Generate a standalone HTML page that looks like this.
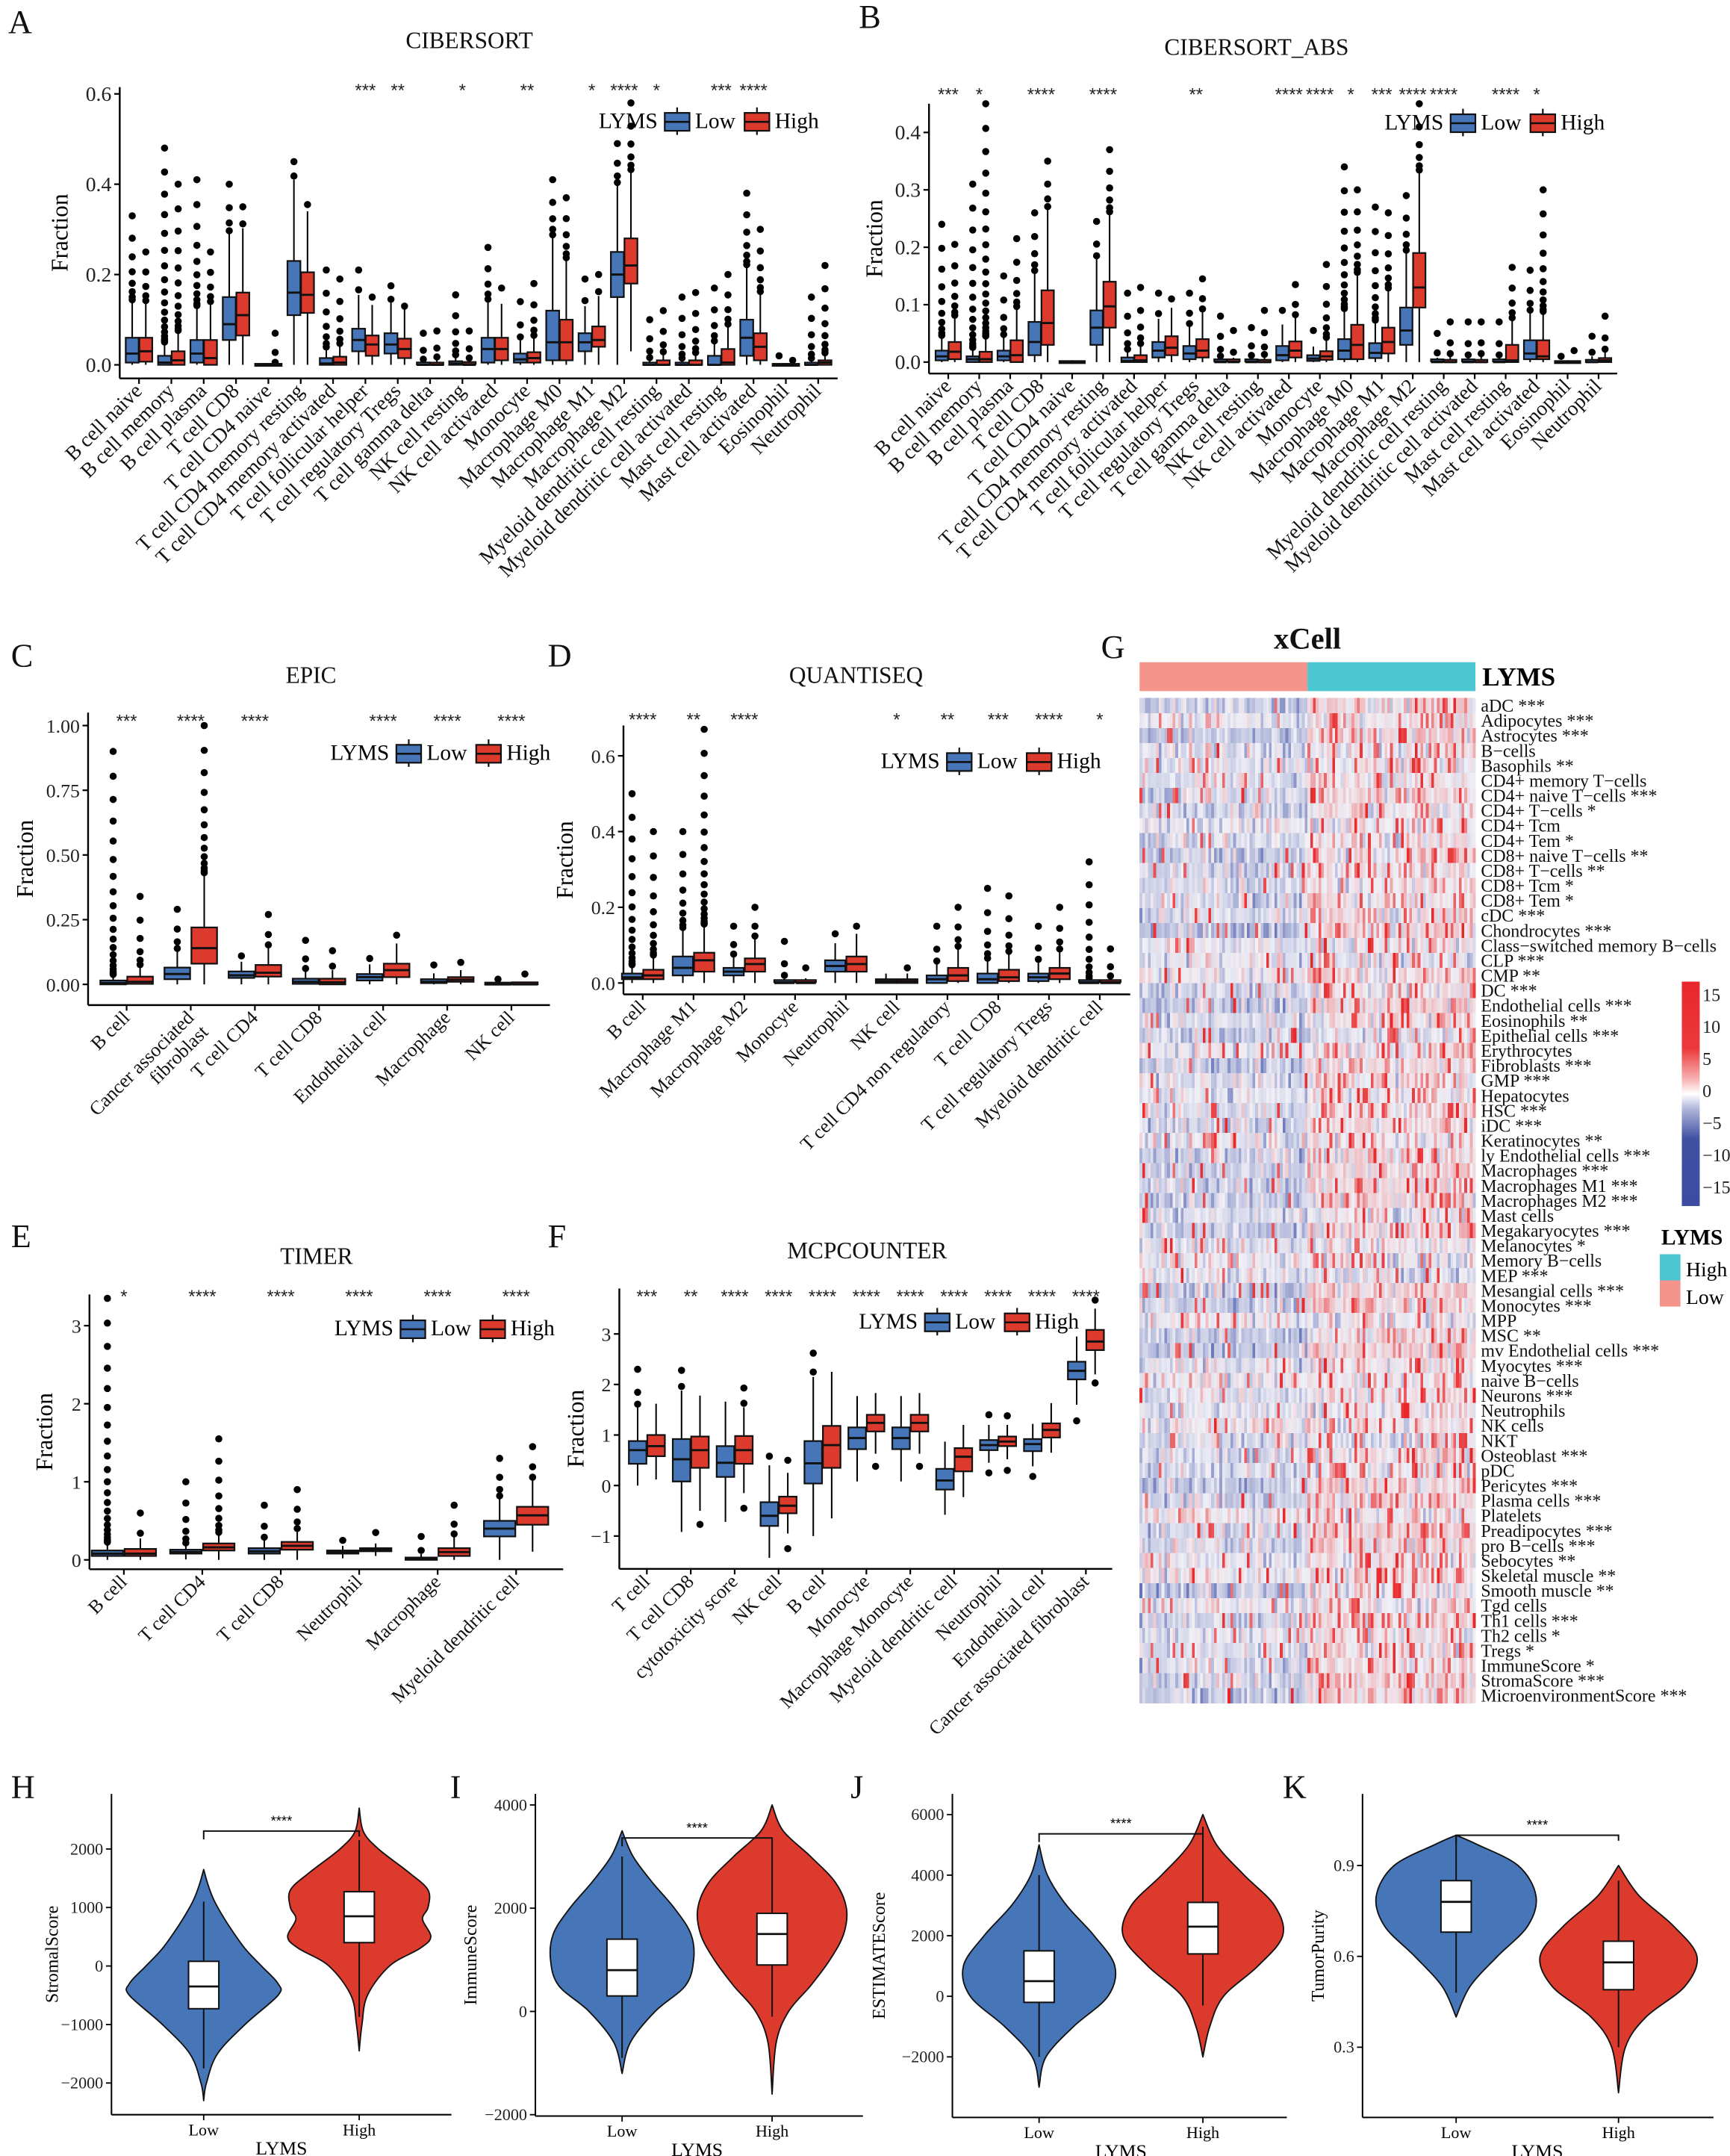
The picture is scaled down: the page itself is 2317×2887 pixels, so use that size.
<!DOCTYPE html>
<html><head><meta charset="utf-8">
<style>html,body{margin:0;padding:0;background:#fff}svg{display:block}</style>
</head><body>
<svg id="fig" xmlns="http://www.w3.org/2000/svg" width="2317" height="2887" viewBox="0 0 1257 1566" preserveAspectRatio="none" font-family="Liberation Serif, serif">
<rect x="0" y="0" width="1257" height="1566" fill="#fff"/>
<g font-size="24" fill="#111">
<text x="6" y="24">A</text>
<text x="624" y="20">B</text>
<text x="8" y="484">C</text>
<text x="398" y="484">D</text>
<text x="800" y="478">G</text>
<text x="8" y="906">E</text>
<text x="398" y="906">F</text>
<text x="8" y="1306">H</text>
<text x="327" y="1306">I</text>
<text x="618" y="1306">J</text>
<text x="932" y="1306">K</text>
</g>
<g font-size="17" fill="#111" text-anchor="middle">
<text x="341" y="35">CIBERSORT</text>
<text x="913" y="40">CIBERSORT_ABS</text>
<text x="226" y="496">EPIC</text>
<text x="622" y="496">QUANTISEQ</text>
<text x="230" y="918">TIMER</text>
<text x="630" y="914">MCPCOUNTER</text>
<text x="950" y="471" font-size="22" font-weight="bold">xCell</text>
</g>
</svg>
<script>
const NS='http://www.w3.org/2000/svg';
const svg=document.getElementById('fig');
const BLUE='#4676B8', RED='#DC3A2C';
function mk(tag,attrs,parent){const e=document.createElementNS(NS,tag);for(const k in attrs)e.setAttribute(k,attrs[k]);(parent||svg).appendChild(e);return e;}
function tx(str,attrs,parent){const e=mk('text',attrs,parent);e.textContent=str;return e;}

/* ---------- Panel A: CIBERSORT ---------- */
const aCats=["B cell naive","B cell memory","B cell plasma","T cell CD8","T cell CD4  naive","T cell CD4  memory resting","T cell CD4  memory activated","T cell follicular helper","T cell regulatory  Tregs","T cell gamma delta","NK cell resting","NK cell activated","Monocyte","Macrophage M0","Macrophage M1","Macrophage M2","Myeloid dendritic cell resting","Myeloid dendritic cell activated","Mast cell resting","Mast cell activated","Eosinophil","Neutrophil"];
const aLow=[[.005,.025,.06,.33],[0,.005,.02,.48],[.005,.025,.055,.41],[.055,.09,.15,.40],[0,0,0,0],[.11,.16,.23,.45],[0,.003,.015,.21],[.03,.055,.08,.21],[.025,.045,.07,.175],[0,0,.003,.07],[0,.003,.008,.155],[.005,.035,.06,.26],[.005,.012,.025,.14],[.01,.05,.12,.41],[.03,.05,.07,.19],[.15,.2,.25,.49],[0,0,.005,.10],[0,0,.005,.15],[0,0,.02,.17],[.02,.06,.1,.38],[0,0,0,.02],[0,0,.005,.15]];
const aHigh=[[.007,.03,.06,.25],[0,.01,.03,.40],[0,.015,.055,.25],[.065,.11,.16,.35],[0,0,0,.07],[.115,.155,.205,.355],[0,.005,.018,.19],[.02,.045,.065,.15],[.015,.035,.058,.13],[0,0,.005,.075],[0,0,.004,.075],[.01,.035,.06,.17],[.005,.015,.028,.18],[.01,.05,.1,.37],[.04,.055,.085,.20],[.18,.22,.28,.58],[0,0,.01,.12],[0,0,.01,.16],[0,.005,.035,.20],[.01,.04,.07,.30],[0,0,0,.01],[0,.005,.01,.22]];
const aStars=["","","","","","","","***","**","","*","","**","","*","****","*","","***","****","",""];
const aTicks=[0,0.2,0.4,0.6];
const aTickLabels=["0.0","0.2","0.4","0.6"];

/* ---------- Panel B: CIBERSORT_ABS ---------- */
const bCats=aCats.slice();
const bLow=[[.003,.01,.02,.24],[0,.005,.01,.31],[.003,.01,.02,.15],[.012,.035,.07,.26],[0,0,0,0],[.03,.06,.09,.245],[0,.002,.008,.12],[.008,.02,.035,.12],[.005,.015,.028,.12],[0,0,.003,.08],[0,0,.003,.06],[.003,.012,.028,.09],[.002,.006,.012,.055],[.005,.02,.04,.34],[.007,.016,.033,.27],[.03,.055,.095,.29],[0,0,.003,.05],[0,0,.003,.07],[0,0,.003,.07],[.005,.015,.038,.16],[0,0,0,.01],[0,0,.004,.045]];
const bHigh=[[.005,.018,.035,.205],[0,.005,.018,.45],[0,.012,.038,.215],[.03,.068,.125,.35],[0,0,0,0],[.06,.097,.14,.37],[0,.003,.012,.13],[.012,.025,.045,.11],[.008,.02,.04,.145],[0,0,.003,.055],[0,0,.004,.09],[.008,.02,.036,.135],[.004,.01,.019,.17],[.005,.03,.065,.30],[.015,.035,.06,.26],[.095,.13,.19,.45],[0,0,.004,.07],[0,0,.004,.07],[0,.003,.03,.165],[.005,.01,.038,.30],[0,0,0,.02],[0,.003,.007,.08]];
const bStars=["***","*","","****","","****","","","**","","","****","****","*","***","****","****","","****","*","",""];
const bTicks=[0,0.1,0.2,0.3,0.4];
const bTickLabels=["0.0","0.1","0.2","0.3","0.4"];

/* ---------- Panel C: EPIC ---------- */
const cCats=["B cell","Cancer associated|fibroblast","T cell CD4","T cell CD8","Endothelial cell","Macrophage","NK cell"];
const cLow=[[0,.005,.015,.9],[.02,.04,.065,.29],[.025,.035,.05,.11],[.002,.01,.022,.17],[.015,.028,.04,.1],[.005,.01,.02,.075],[0,0,.003,.02]];
const cHigh=[[.002,.01,.03,.34],[.08,.14,.22,1.0],[.03,.045,.075,.27],[0,.008,.022,.13],[.028,.055,.08,.19],[.01,.018,.028,.085],[0,0,.004,.04]];
const cStars=["***","****","****","","****","****","****"];
const cTicks=[0,0.25,0.5,0.75,1.0];
const cTickLabels=["0.00","0.25","0.50","0.75","1.00"];

/* ---------- Panel D: QUANTISEQ ---------- */
const dCats=["B cell","Macrophage M1","Macrophage M2","Monocyte","Neutrophil","NK cell","T cell CD4 non regulatory","T cell CD8","T cell regulatory  Tregs","Myeloid dendritic cell"];
const dLow=[[.01,.015,.025,.5],[.02,.04,.07,.4],[.02,.03,.04,.15],[0,0,.005,.11],[.03,.045,.06,.13],[0,.005,.01,.03],[0,.01,.02,.15],[0,.01,.025,.25],[.005,.015,.025,.15],[0,0,.005,.32]];
const dHigh=[[.01,.02,.035,.4],[.03,.06,.08,.67],[.03,.05,.065,.2],[0,0,.005,.04],[.03,.05,.07,.15],[0,.005,.01,.04],[.005,.02,.04,.2],[.005,.015,.035,.23],[.01,.025,.04,.2],[0,0,.005,.09]];
const dStars=["****","**","****","","","*","**","***","****","*"];
const dTicks=[0,0.2,0.4,0.6];
const dTickLabels=["0.0","0.2","0.4","0.6"];

/* ---------- Panel E: TIMER ---------- */
const eCats=["B cell","T cell CD4","T cell CD8","Neutrophil","Macrophage","Myeloid dendritic cell"];
const eLow=[[.05,.08,.12,3.35],[.08,.1,.13,1.0],[.08,.11,.15,.7],[.08,.1,.12,.25],[0,.01,.03,.3],[.3,.4,.5,1.3]];
const eHigh=[[.05,.08,.14,.6],[.12,.16,.21,1.55],[.13,.18,.23,.9],[.11,.13,.15,.35],[.05,.1,.15,.7],[.45,.57,.68,1.45]];
const eStars=["*","****","****","****","****","****"];
const eTicks=[0,1,2,3];
const eTickLabels=["0","1","2","3"];

/* ---------- Panel F: MCPCOUNTER  [lo,q1,med,q3,hi,outMax,outMin] ---------- */
const fCats=["T cell","T cell CD8","cytotoxicity score","NK cell","B cell","Monocyte","Macrophage Monocyte","Myeloid dendritic cell","Neutrophil","Endothelial cell","Cancer associated fibroblast"];
const fLow=[[0,.43,.7,.88,1.55,2.3],[-.92,.08,.52,.92,1.88,2.28],[-.72,.17,.45,.78,1.66,1.66],[-1.43,-.8,-.6,-.33,.4,.58],[-1.0,.04,.44,.88,2.15,2.62],[.08,.72,.94,1.15,1.77,1.77],[.08,.72,.94,1.15,1.77,1.77],[-.58,-.08,.1,.33,.87,.87],[.45,.7,.8,.9,1.2,1.4,.25],[.38,.68,.82,.92,1.22,1.22,.18],[1.6,2.1,2.27,2.45,2.95,2.95,1.28]];
const fHigh=[[.12,.58,.78,1.0,1.62,1.62],[-.5,.35,.7,.97,1.78,1.78,-.77],[-.15,.43,.7,.98,1.55,1.93,-.45],[-.95,-.55,-.4,-.22,.25,.5,-1.25],[-.65,.35,.8,1.18,2.25,2.25],[.63,1.07,1.24,1.4,1.83,1.83,.38],[.63,1.07,1.24,1.4,1.83,1.83,.38],[-.23,.28,.57,.74,1.2,1.2],[.52,.78,.87,.97,1.2,1.38,.3],[.65,.95,1.1,1.23,1.63,1.63],[2.2,2.68,2.85,3.08,3.5,3.67,2.03]];
const fStars=["***","**","****","****","****","****","****","****","****","****","****"];
const fTicks=[-1,0,1,2,3];
const fTickLabels=["\u22121","0","1","2","3"];

function dotPositions(pStart,pEnd){
  const dist=Math.abs(pEnd-pStart);
  if(dist<2) return [];
  const n=Math.max(1,Math.round(dist/8));
  const out=[];
  for(let k=1;k<=n;k++){const t=Math.pow(k/n,2.3);out.push(pStart+(pEnd-pStart)*t);}
  return out;
}

function drawBoxPanel(c){
  const g=mk('g',{});
  
  
  const Y=v=>c.y0-v*c.ppu;
  const yTop=Y(c.amax), yBot=Y(c.amin);
  const xRight=c.x1+(c.cats.length-1)*c.sp+c.sp*0.6;
  const ya=mk('line',{x1:c.ax,x2:c.ax,y1:yTop,y2:yBot,stroke:'#000','stroke-width':1.3},g);
  
  
  const xa=mk('line',{x1:c.ax,x2:xRight,y1:yBot,y2:yBot,stroke:'#000','stroke-width':1.3},g);
  
  
  c.ticks.forEach((t,i)=>{
    const tl=mk('line',{x1:c.ax-4,x2:c.ax,y1:Y(t),y2:Y(t),stroke:'#000','stroke-width':1.2},g);
    
    
    const lb=tx(c.tickLabels[i],{x:c.ax-6,y:Y(t)+5,'text-anchor':'end','font-size':c.tfs,fill:'#222'},g);
    
    
  });
  const yt=tx('Fraction',{x:c.ytx,y:(yTop+yBot)/2,'text-anchor':'middle','font-size':17,transform:`rotate(-90 ${c.ytx} ${(yTop+yBot)/2})`},g);
  
  
  const bw=c.sp*0.4, off=c.sp*0.21;
  c.cats.forEach((cat,i)=>{
    const cx=c.x1+i*c.sp;
    const tk=mk('line',{x1:cx,x2:cx,y1:yBot,y2:yBot+4,stroke:'#000','stroke-width':1.2},g);
    
    
    [[c.low[i],BLUE,-1,'low'],[c.high[i],RED,1,'high']].forEach(([d,col,s,nm])=>{
      const bx=cx+s*off;
      let lo,q1,md,q3,hi,outMax,outMin;
      if(d.length===4){[q1,md,q3,outMax]=d;const iqr=q3-q1;hi=Math.max(q3,Math.min(q3+1.5*iqr,outMax));lo=Math.max(q1-1.5*iqr,c.floor);outMin=null;}
      else{[lo,q1,md,q3,hi,outMax,outMin]=d;}
      const bg=mk('g',{},g);
      
      
      dotPositions(Y(hi),Y(outMax)).forEach(py=>{
        const dot=mk('circle',{cx:bx,cy:py,r:2.6,fill:'#000'},bg);
        
        
      });
      if(outMin!=null&&outMin!==undefined){
        dotPositions(Y(lo),Y(outMin)).forEach(py=>{
          const dot=mk('circle',{cx:bx,cy:py,r:2.6,fill:'#000'},bg);
          
          
        });
      }
      const wk=mk('line',{x1:bx,x2:bx,y1:Y(hi),y2:Y(lo),stroke:'#000','stroke-width':1.1},bg);
      
      
      const h=Math.max(Y(q1)-Y(q3),1.5);
      const rc=mk('rect',{x:bx-bw/2,y:Y(q3)-(h<=1.5?0.75:0),width:bw,height:h,fill:col,stroke:'#111','stroke-width':1.2},bg);
      
      
      const ml=mk('line',{x1:bx-bw/2,x2:bx+bw/2,y1:Y(md),y2:Y(md),stroke:'#111','stroke-width':1.6},bg);
      
      
    });
    const parts=cat.split('|');
    const lx=cx+3, ly=yBot+10;
    const lab=tx('',{x:lx,y:ly,'text-anchor':'end','font-size':c.lfs,fill:'#111',transform:`rotate(-45 ${lx} ${ly})`},g);
    
    
    parts.forEach((p,k)=>{const ts=mk('tspan',{x:lx,dy:k?'1.05em':'0'},lab);ts.textContent=p;});
    if(c.stars[i]){
      const st=tx(c.stars[i],{x:cx,y:c.starY,'text-anchor':'middle','font-size':13,fill:'#222','font-family':'Liberation Sans, sans-serif'},g);
      
      
    }
  });
  const lg=mk('g',{},g);
  
  
  const L=c.leg;
  const l1=tx('LYMS',{x:L[0],y:L[1]+5,'font-size':16},lg);
  
  
  [[BLUE,'Low',48],[RED,'High',106]].forEach(([col,t,dx])=>{
    const k=mk('line',{x1:L[0]+dx+9,x2:L[0]+dx+9,y1:L[1]-10,y2:L[1]+10,stroke:'#111','stroke-width':1.2},lg);
    
    
    const r=mk('rect',{x:L[0]+dx,y:L[1]-6,width:18,height:13,fill:col,stroke:'#111','stroke-width':1.2},lg);
    
    
    const m=mk('line',{x1:L[0]+dx,x2:L[0]+dx+18,y1:L[1]+0.5,y2:L[1]+0.5,stroke:'#111','stroke-width':1.4},lg);
    
    
    const lt=tx(t,{x:L[0]+dx+22,y:L[1]+5,'font-size':16},lg);
    
    
  });
}

drawBoxPanel({name:'panel-a-cibersort',cats:aCats,low:aLow,high:aHigh,stars:aStars,ticks:aTicks,tickLabels:aTickLabels,ax:87,y0:265,ppu:328,amin:-0.03,amax:0.615,x1:101,sp:23.5,floor:0,starY:70,ytx:49,tfs:15,lfs:15,leg:[435,88]});
drawBoxPanel({name:'panel-b-cibersort-abs',cats:bCats,low:bLow,high:bHigh,stars:bStars,ticks:bTicks,tickLabels:bTickLabels,ax:675,y0:263,ppu:417,amin:-0.02,amax:0.45,x1:689,sp:22.5,floor:0,starY:73,ytx:641,tfs:15,lfs:15,leg:[1006,89]});
drawBoxPanel({name:'panel-c-epic',cats:cCats,low:cLow,high:cHigh,stars:cStars,ticks:cTicks,tickLabels:cTickLabels,ax:64,y0:715,ppu:188,amin:-0.08,amax:1.05,x1:92,sp:46.6,floor:0,starY:528,ytx:24,tfs:14,lfs:14,leg:[240,547]});
drawBoxPanel({name:'panel-d-quantiseq',cats:dCats,low:dLow,high:dHigh,stars:dStars,ticks:dTicks,tickLabels:dTickLabels,ax:453,y0:714,ppu:275,amin:-0.03,amax:0.68,x1:467,sp:36.9,floor:0,starY:527,ytx:416,tfs:14,lfs:14,leg:[640,553]});
drawBoxPanel({name:'panel-e-timer',cats:eCats,low:eLow,high:eHigh,stars:eStars,ticks:eTicks,tickLabels:eTickLabels,ax:65,y0:1133,ppu:56.7,amin:-0.12,amax:3.4,x1:90,sp:57,floor:0,starY:946,ytx:38,tfs:14,lfs:14,leg:[243,965]});
drawBoxPanel({name:'panel-f-mcpcounter',cats:fCats,low:fLow,high:fHigh,stars:fStars,ticks:fTicks,tickLabels:fTickLabels,ax:450,y0:1079,ppu:36.7,amin:-1.65,amax:3.9,x1:470,sp:31.9,floor:-5,starY:946,ytx:424,tfs:14,lfs:14,leg:[624,960]});

/* ---------- Panel G: xCell heatmap ---------- */
const gRows=["aDC ***","Adipocytes ***","Astrocytes ***","B\u2212cells","Basophils **","CD4+ memory T\u2212cells","CD4+ naive T\u2212cells ***","CD4+ T\u2212cells *","CD4+ Tcm","CD4+ Tem *","CD8+ naive T\u2212cells **","CD8+ T\u2212cells **","CD8+ Tcm *","CD8+ Tem *","cDC ***","Chondrocytes ***","Class\u2212switched memory B\u2212cells","CLP ***","CMP **","DC ***","Endothelial cells ***","Eosinophils **","Epithelial cells ***","Erythrocytes","Fibroblasts ***","GMP ***","Hepatocytes","HSC ***","iDC ***","Keratinocytes **","ly Endothelial cells ***","Macrophages ***","Macrophages M1 ***","Macrophages M2 ***","Mast cells","Megakaryocytes ***","Melanocytes *","Memory B\u2212cells","MEP ***","Mesangial cells ***","Monocytes ***","MPP","MSC **","mv Endothelial cells ***","Myocytes ***","naive B\u2212cells","Neurons ***","Neutrophils","NK cells","NKT","Osteoblast ***","pDC","Pericytes ***","Plasma cells ***","Platelets","Preadipocytes ***","pro B\u2212cells ***","Sebocytes **","Skeletal muscle **","Smooth muscle **","Tgd cells","Th1 cells ***","Th2 cells *","Tregs *","ImmuneScore *","StromaScore ***","MicroenvironmentScore ***"];
const gLowMean=[-.35,-.05,-.4,-.1,-.15,-.15,-.2,-.2,0,-.15,-.3,-.25,-.2,-.2,-.2,-.4,-.1,-.05,0,-.25,-.35,-.2,-.25,0,-.3,-.15,-.1,-.2,-.25,-.1,-.3,-.3,-.3,-.3,-.15,-.3,-.15,-.05,-.1,-.3,-.25,0,-.35,-.3,-.15,0,-.15,-.1,0,-.2,-.15,-.15,-.35,-.2,0,-.25,-.2,-.05,0,-.35,0,-.25,-.15,-.15,-.2,-.3,-.3];
const gHighMean=[.2,.1,.2,0,.05,.05,.15,.05,.05,.05,.1,.1,.1,.1,.15,.2,0,-.1,.1,.15,.2,.1,-.15,.05,.2,.1,0,.1,.15,.05,.2,.2,.2,.2,0,.2,.05,0,-.15,.2,.2,0,.05,.2,.1,.05,.1,.05,.05,0,.15,0,.15,.2,.05,.2,.2,.1,.1,.05,.05,.15,.1,.1,.1,.2,.2];
function drawHeatmap(){
  const g=mk('g',{});
  
  
  const x0=828,x1=1072,y0=507,rh=730/gRows.length,N=122,cw=(x1-x0)/N;
  const a1=mk('rect',{x:x0,y:481,width:(x1-x0)/2,height:21,fill:'#F4948A'},g);
  
  
  const a2=mk('rect',{x:(x0+x1)/2,y:481,width:(x1-x0)/2,height:21,fill:'#4CC6D0'},g);
  
  
  const at=tx('LYMS',{x:1077,y:498,'font-size':19,'font-weight':'bold'},g);
  
  
  const h=(i,j)=>{const s=Math.sin(i*127.1+j*311.7+7.3)*43758.5453;return s-Math.floor(s);};
  const col=t=>{t=Math.max(-1,Math.min(1,t));
    if(t>=0){const r=Math.round(240+(232-240)*t),gg=Math.round(240-(240-38)*t),b=Math.round(246-(246-40)*t);return `rgb(${r},${gg},${b})`;}
    const u=-t;return `rgb(${Math.round(240-(240-60)*u)},${Math.round(240-(240-78)*u)},${Math.round(246-(246-165)*u)})`;};
  const cells=mk('g',{'shape-rendering':'crispEdges'},g);
  
  
  gRows.forEach((r,i)=>{
    for(let j=0;j<N;j++){
      const base=j<N/2?gLowMean[i]:gHighMean[i];
      const n=h(i,j)*2-1, cn=h(99,j)*2-1;
      let v=0.7*base+0.45*n*n*n+0.1*cn;
      const sp=h(i+50,j);
      if(sp>(j<N/2?0.95:0.88)) v=0.6+0.4*h(i+7,j+3);
      const c=mk('rect',{x:x0+j*cw,y:y0+i*rh,width:cw+0.3,height:rh+0.3,fill:col(v)},cells);
      
      
    }
    const lb=tx(r,{x:1076,y:y0+(i+0.5)*rh+4.5,'font-size':13,fill:'#111'},g);
    
    
  });
  const defs=mk('defs',{},g);
  const lgd=mk('linearGradient',{id:'cbg',x1:0,y1:0,x2:0,y2:1},defs);
  [[0,'#E8262B'],[0.3,'#EC3A3C'],[0.44,'#F7B8B8'],[0.5,'#FFFFFF'],[0.56,'#B8BCDD'],[0.7,'#4050A3'],[1,'#3C4CA0']].forEach(([o,c])=>mk('stop',{offset:o,'stop-color':c},lgd));
  const cb=mk('rect',{x:1222,y:713,width:13,height:163,fill:'url(#cbg)'},g);
  
  
  const cbT=["15","10","5","0","\u22125","\u221210","\u221215"];
  cbT.forEach((t,k)=>{
    const l=tx(t,{x:1237,y:727+k*23.3,'font-size':13,fill:'#222'},g);
    
    
  });
  const lt=tx('LYMS',{x:1207,y:904,'font-size':16,'font-weight':'bold'},g);
  
  
  const k1=mk('rect',{x:1206,y:911,width:15,height:19,fill:'#4CC6D0'},g);
  
  
  const k2=mk('rect',{x:1206,y:930,width:15,height:19,fill:'#F4948A'},g);
  
  
  const t1=tx('High',{x:1225,y:927,'font-size':15},g);
  
  
  const t2=tx('Low',{x:1225,y:947,'font-size':15},g);
  
  
}
drawHeatmap();

/* ---------- Panels H-K: violins ---------- */
const hLowVals=[-2300,-2000,-1500,-1000,-500,-300,0,300,700,1100,1400,1650];
const hLowW=[0,2,10,30,54,54,42,30,18,8,3,0];
const hHighVals=[-1450,-1000,-500,0,300,500,800,1000,1300,1600,2000,2300,2700];
const hHighW=[0,2,6,22,44,52,46,50,50,36,14,3,0];
const hLowBox=[-1750,-730,-350,80,1100];
const hHighBox=[-870,400,850,1270,2150];
const iLowVals=[-1200,-600,0,500,1000,1500,2000,2500,3000,3500];
const iLowW=[0,6,24,46,52,50,38,22,8,0];
const iHighVals=[-1600,-600,0,500,1000,1500,2000,2500,3000,3500,4000];
const iHighW=[0,3,12,28,42,52,54,46,28,8,0];
const iLowBox=[-900,300,800,1400,3000];
const iHighBox=[-100,900,1500,1900,3300];
const jLowVals=[-3000,-2000,-1000,0,1000,2000,3000,4000,5000];
const jLowW=[0,5,25,50,55,40,20,6,0];
const jHighVals=[-2000,-1000,0,1000,2000,3000,4000,5000,6000];
const jHighW=[0,5,15,40,58,52,30,10,0];
const jLowBox=[-2000,-200,500,1500,4000];
const jHighBox=[-300,1400,2300,3100,5600];
const kLowVals=[.4,.5,.6,.7,.8,.9,.97,1.0];
const kLowW=[0,10,30,52,58,45,15,0];
const kHighVals=[.15,.3,.4,.5,.6,.7,.8,.9];
const kHighW=[0,5,20,48,57,40,15,0];
const kLowBox=[.48,.68,.78,.85,1.0];
const kHighBox=[.3,.49,.58,.65,.85];
const hTicks=[2000,1000,0,-1000,-2000];
const iTicks=[4000,2000,0,-2000];
const jTicks=[6000,4000,2000,0,-2000];
const kTicks=[0.9,0.6,0.3];

function smoothPath(pts,move){
  let d=(move?'M':'L')+pts[0][0].toFixed(1)+','+pts[0][1].toFixed(1);
  for(let i=0;i<pts.length-1;i++){
    const p0=pts[i-1]||pts[i],p1=pts[i],p2=pts[i+1],p3=pts[i+2]||p2;
    const c1=[p1[0]+(p2[0]-p0[0])/6,p1[1]+(p2[1]-p0[1])/6];
    const c2=[p2[0]-(p3[0]-p1[0])/6,p2[1]-(p3[1]-p1[1])/6];
    d+=`C${c1[0].toFixed(1)},${c1[1].toFixed(1)} ${c2[0].toFixed(1)},${c2[1].toFixed(1)} ${p2[0].toFixed(1)},${p2[1].toFixed(1)}`;
  }
  return d;
}

function drawViolinPanel(c){
  const g=mk('g',{});
  
  
  const Y=v=>c.yz-(v-c.vz)*c.ppu;
  const ya=mk('line',{x1:c.ax,x2:c.ax,y1:c.top,y2:c.bot,stroke:'#000','stroke-width':1.1},g);
  
  
  const xa=mk('line',{x1:c.ax,x2:c.right,y1:c.bot,y2:c.bot,stroke:'#000','stroke-width':1.1},g);
  
  
  c.ticks.forEach(t=>{
    const tl=mk('line',{x1:c.ax-4,x2:c.ax,y1:Y(t),y2:Y(t),stroke:'#000'},g);
    
    
    const s=(t<0?'\u2212':'')+Math.abs(t);
    const lb=tx(s,{x:c.ax-6,y:Y(t)+4,'text-anchor':'end','font-size':12,fill:'#222'},g);
    
    
  });
  const ym=(c.top+c.bot)/2;
  const yt=tx(c.ytitle,{x:c.ytx,y:ym,'text-anchor':'middle','font-size':13,transform:`rotate(-90 ${c.ytx} ${ym})`},g);
  
  
  [[c.lx,c.lowV,c.lowW,c.lowBox,BLUE,'Low'],[c.hx,c.highV,c.highW,c.highBox,RED,'High']].forEach(([x,vals,ws,bx,col,nm])=>{
    const right=vals.map((v,k)=>[x+ws[k],Y(v)]);
    const left=vals.map((v,k)=>[x-ws[k],Y(v)]).reverse();
    const d=smoothPath(right,true)+smoothPath(left,false)+'Z';
    const p=mk('path',{d:d,fill:col,stroke:'#111','stroke-width':1,'stroke-linejoin':'round'},g);
    
    
    const w=mk('line',{x1:x,x2:x,y1:Y(bx[0]),y2:Y(bx[4]),stroke:'#111','stroke-width':1.1},g);
    
    
    const r=mk('rect',{x:x-11,y:Y(bx[3]),width:22,height:Y(bx[1])-Y(bx[3]),fill:'#fff',stroke:'#111','stroke-width':1.1},g);
    
    
    const m=mk('line',{x1:x-11,x2:x+11,y1:Y(bx[2]),y2:Y(bx[2]),stroke:'#111','stroke-width':1.5},g);
    
    
    const tk=mk('line',{x1:x,x2:x,y1:c.bot,y2:c.bot+4,stroke:'#000'},g);
    
    
    const xl=tx(nm,{x:x,y:c.bot+15,'text-anchor':'middle','font-size':12},g);
    
    
  });
  const xt=tx('LYMS',{x:(c.lx+c.hx)/2,y:c.bot+29,'text-anchor':'middle','font-size':14},g);
  
  
  const br=mk('path',{d:`M${c.lx},${c.sig+6}V${c.sig}H${c.hx}V${c.sig+4}`,fill:'none',stroke:'#111','stroke-width':1.1},g);
  
  
  const st=tx('****',{x:(c.lx+c.hx)/2,y:c.sig-4,'text-anchor':'middle','font-size':10,'font-family':'Liberation Sans, sans-serif'},g);
  
  
}
drawViolinPanel({name:'panel-h-stromalscore',ytitle:'StromalScore',ytx:42,ax:81,right:328,top:1303,bot:1536,yz:1428,vz:0,ppu:0.0425,ticks:hTicks,lx:148,hx:261,lowV:hLowVals,lowW:hLowW,highV:hHighVals,highW:hHighW,lowBox:hLowBox,highBox:hHighBox,sig:1330});
drawViolinPanel({name:'panel-i-immunescore',ytitle:'ImmuneScore',ytx:346,ax:389,right:627,top:1303,bot:1537,yz:1461,vz:0,ppu:0.0375,ticks:iTicks,lx:452,hx:561,lowV:iLowVals,lowW:iLowW,highV:iHighVals,highW:iHighW,lowBox:iLowBox,highBox:iHighBox,sig:1335});
drawViolinPanel({name:'panel-j-estimatescore',ytitle:'ESTIMATEScore',ytx:643,ax:692,right:935,top:1303,bot:1538,yz:1450,vz:0,ppu:0.022,ticks:jTicks,lx:755,hx:874,lowV:jLowVals,lowW:jLowW,highV:jHighVals,highW:jHighW,lowBox:jLowBox,highBox:jHighBox,sig:1332});
drawViolinPanel({name:'panel-k-tumorpurity',ytitle:'TumorPurity',ytx:962,ax:990,right:1245,top:1303,bot:1538,yz:1421,vz:0.6,ppu:220,ticks:kTicks,lx:1058,hx:1176,lowV:kLowVals,lowW:kLowW,highV:kHighVals,highW:kHighW,lowBox:kLowBox,highBox:kHighBox,sig:1333});
</script>
</body></html>
